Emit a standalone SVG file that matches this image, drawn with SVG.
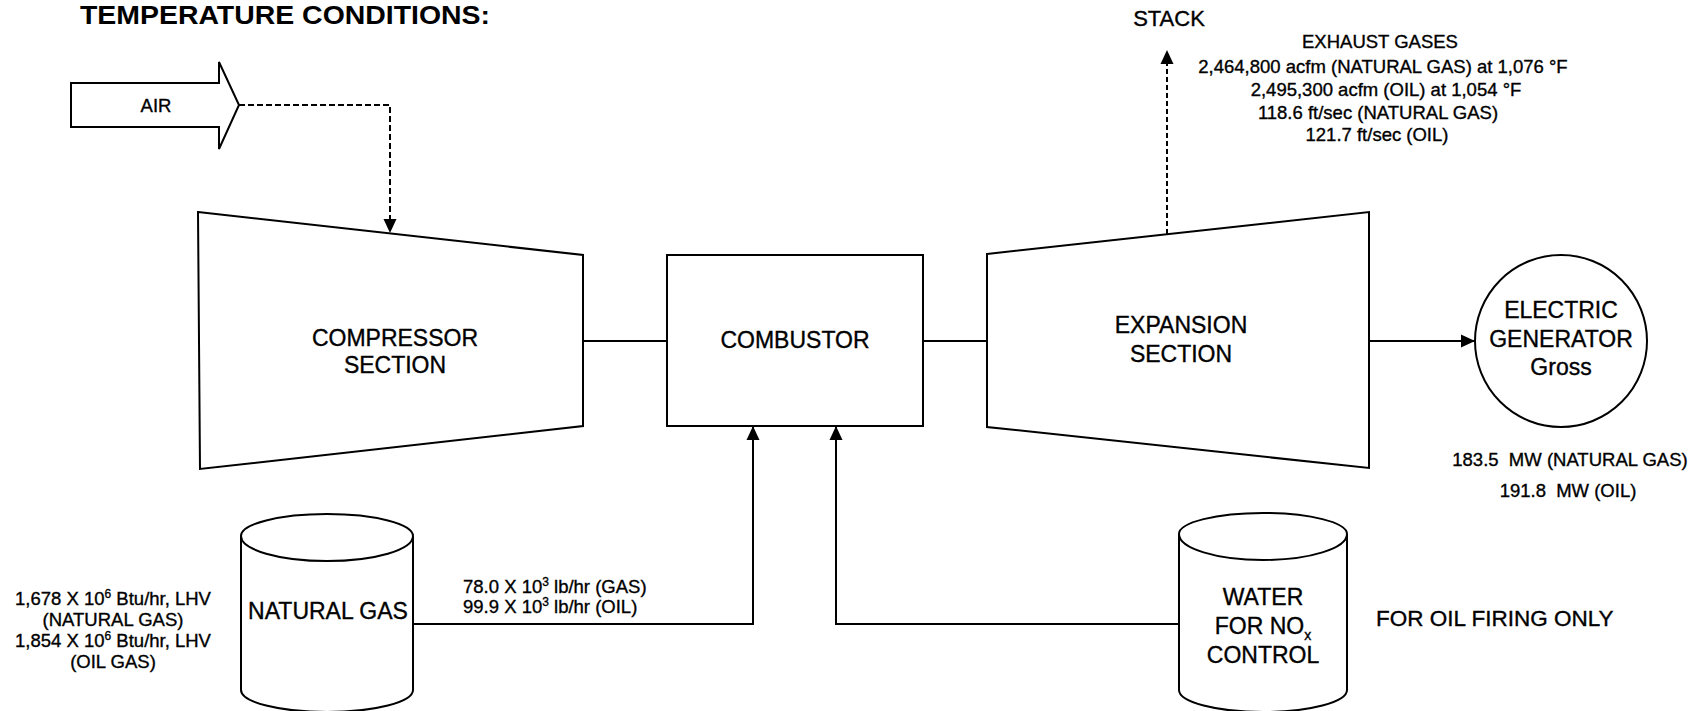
<svg xmlns="http://www.w3.org/2000/svg" width="1702" height="711" viewBox="0 0 1702 711">
<style>
text{font-family:"Liberation Sans",Arial,Helvetica,sans-serif;fill:#000;stroke:#000;stroke-width:0.35px}
.lbl{font-size:23px;text-anchor:middle}
.sm{font-size:18.5px}
.smc{font-size:18.5px;text-anchor:middle}
.shape{fill:#fff;stroke:#000;stroke-width:2;stroke-linejoin:miter}
.conn{fill:none;stroke:#000;stroke-width:2}
.dash{stroke-dasharray:6 3}
.title{font-size:25px;font-weight:bold;stroke-width:0}
</style>
<defs>
<marker id="arr" markerUnits="userSpaceOnUse" markerWidth="15" markerHeight="14" refX="14" refY="7" orient="auto" viewBox="0 0 15 14">
<path d="M0,0.5 L14,7 L0,13.5 Z" fill="#000" stroke="none"/>
</marker>
</defs>
<rect width="1702" height="711" fill="#fff"/>

<g id="title">
<text class="title" x="80" y="24" textLength="410" lengthAdjust="spacingAndGlyphs">TEMPERATURE  CONDITIONS:</text>
</g>

<g id="air">
<polygon class="shape" points="71,83 219,83 219,62 239,105 219,149 219,127 71,127"/>
<text x="156" y="112" font-size="18.5" text-anchor="middle">AIR</text>
</g>

<g id="compressor">
<polygon class="shape" points="198,212 583,255 583,426 200,469"/>
<text class="lbl" x="395" y="346">COMPRESSOR</text>
<text class="lbl" x="395" y="373">SECTION</text>
</g>

<g id="combustor">
<rect class="shape" x="667" y="255" width="256" height="171"/>
<text class="lbl" x="795" y="348">COMBUSTOR</text>
</g>

<g id="expansion">
<polygon class="shape" points="987,254 1369,212 1369,468 987,427"/>
<text class="lbl" x="1181" y="333">EXPANSION</text>
<text class="lbl" x="1181" y="362">SECTION</text>
</g>

<g id="generator">
<circle class="shape" cx="1561" cy="341" r="86"/>
<text class="lbl" x="1561" y="318">ELECTRIC</text>
<text class="lbl" x="1561" y="347">GENERATOR</text>
<text class="lbl" x="1561" y="375">Gross</text>
</g>

<g id="generator-output">
<text class="smc" x="1570" y="466">183.5&#160; MW (NATURAL GAS)</text>
<text class="smc" x="1568" y="497">191.8&#160; MW (OIL)</text>
</g>

<g id="stack">
<text x="1169" y="26" font-size="22" text-anchor="middle">STACK</text>
</g>

<g id="exhaust">
<text class="smc" x="1380" y="48">EXHAUST GASES</text>
<text class="smc" x="1383" y="73">2,464,800 acfm (NATURAL GAS) at 1,076 °F</text>
<text class="smc" x="1386" y="96">2,495,300 acfm (OIL) at 1,054 °F</text>
<text class="smc" x="1378" y="119">118.6 ft/sec (NATURAL GAS)</text>
<text class="smc" x="1377" y="141">121.7 ft/sec (OIL)</text>
</g>

<g id="natural-gas">
<path class="shape" d="M241,536 V690 A86,22 0 0 0 413,690 V536"/>
<path class="shape" d="M241,536 A86,22 0 0 1 413,536 A86,25 0 0 1 241,536 Z"/>
<text class="lbl" x="328" y="619">NATURAL GAS</text>
</g>

<g id="fuel-input">
<text class="smc" x="113" y="605">1,678 X 10<tspan font-size="12" dy="-7">6</tspan><tspan dy="7"> Btu/hr, LHV</tspan></text>
<text class="smc" x="113" y="626">(NATURAL GAS)</text>
<text class="smc" x="113" y="647">1,854 X 10<tspan font-size="12" dy="-7">6</tspan><tspan dy="7"> Btu/hr, LHV</tspan></text>
<text class="smc" x="113" y="668">(OIL GAS)</text>
</g>

<g id="fuel-flow">
<text class="sm" x="463" y="593">78.0 X 10<tspan font-size="12" dy="-7">3</tspan><tspan dy="7"> lb/hr (GAS)</tspan></text>
<text class="sm" x="463" y="613">99.9 X 10<tspan font-size="12" dy="-7">3</tspan><tspan dy="7"> lb/hr (OIL)</tspan></text>
</g>

<g id="water">
<path class="shape" d="M1179,534 V690 A84,22 0 0 0 1347,690 V534"/>
<path class="shape" d="M1179,534 A84,21 0 0 1 1347,534 A84,26 0 0 1 1179,534 Z"/>
<text class="lbl" x="1263" y="605">WATER</text>
<text class="lbl" x="1263" y="634">FOR NO<tspan font-size="14" dy="6">x</tspan></text>
<text class="lbl" x="1263" y="663">CONTROL</text>
</g>

<g id="note">
<text x="1376" y="626" font-size="22.5">FOR OIL FIRING ONLY</text>
</g>

<g id="connectors">
<path class="conn dash" d="M239,105 H390 V233" marker-end="url(#arr)"/>
<path class="conn" d="M583,341 H667"/>
<path class="conn" d="M923,341 H987"/>
<path class="conn" d="M1369,341 H1475" marker-end="url(#arr)"/>
<path class="conn" d="M1167,234 V50" stroke-dasharray="5 3" marker-end="url(#arr)"/>
<path class="conn" d="M413,624 H753 V426" marker-end="url(#arr)"/>
<path class="conn" d="M1179,624 H836 V426" marker-end="url(#arr)"/>
</g>
</svg>
